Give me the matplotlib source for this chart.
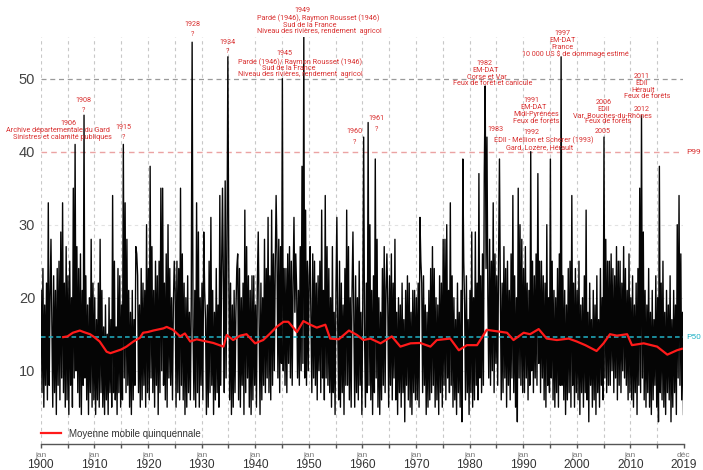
import matplotlib
matplotlib.use('Agg')
import matplotlib.pyplot as plt
import numpy as np

# =====================================================================
# DONNÉES — indice (6 valeurs par an, 1900-2019)
# =====================================================================
v1900 = [21, 7, 24, 5, 19, 8,   22, 6, 33, 8, 20, 28,   17, 5, 23, 7, 21, 4,
         24, 8, 25, 6, 29, 9,   33, 7, 22, 5, 27, 6,    23, 4, 25, 8, 20, 5,
         35, 9, 41, 10, 27, 7,  24, 5, 26, 4, 21, 8,    45, 9, 23, 6, 19, 4,
         20, 7, 28, 5, 22, 6]
v1910 = [20, 4, 17, 6, 22, 5,   28, 7, 21, 5, 16, 4,    19, 6, 15, 4, 20, 7,
         17, 5, 34, 7, 25, 6,   16, 4, 24, 7, 23, 5,    19, 6, 41, 9, 33, 7,
         28, 8, 21, 5, 18, 4,   21, 6, 17, 8, 27, 26,   23, 7, 19, 5, 24, 6,
         22, 8, 21, 5, 30, 7]
v1920 = [24, 6, 38, 9, 27, 7,   21, 5, 25, 8, 23, 4,    25, 7, 35, 10, 35, 8,
         22, 6, 26, 5, 30, 9,   24, 8, 20, 6, 19, 25,   21, 5, 25, 7, 24, 6,
         35, 8, 26, 6, 22, 4,   20, 5, 23, 7, 18, 6,    19, 55, 16, 6, 21, 5,
         33, 7, 29, 5, 20, 8]
v1930 = [22, 6, 29, 21, 17, 4,  19, 5, 25, 7, 31, 8,    21, 4, 18, 6, 24, 7,
         19, 5, 34, 8, 24, 35,  22, 7, 36, 9, 26, 53,   25, 6, 22, 4, 19, 5,
         21, 7, 18, 24, 26, 6,  24, 5, 20, 8, 22, 4,    32, 7, 27, 9, 23, 5,
         21, 4, 23, 6, 23, 8]
v1940 = [19, 5, 22, 29, 17, 4,  22, 6, 20, 8, 28, 7,    24, 9, 31, 7, 23, 6,
         32, 8, 26, 10, 24, 34, 26, 9, 28, 7, 27, 11,   50, 10, 24, 8, 24, 7,
         26, 11, 27, 9, 25, 8,  22, 31, 18, 26, 21, 9,  21, 8, 27, 10, 38, 11,
         56, 9, 32, 8, 25, 10]
v1950 = [23, 27, 17, 7, 26, 9,  25, 8, 22, 6, 23, 10,   25, 7, 32, 9, 21, 6,
         34, 9, 27, 8, 24, 7,   20, 5, 27, 7, 18, 4,    21, 31, 16, 6, 25, 5,
         22, 7, 19, 4, 24, 8,   32, 8, 27, 6, 20, 5,    21, 29, 17, 5, 23, 7,
         20, 6, 25, 8, 18, 4]
v1960 = [19, 42, 15, 5, 22, 7,  44, 8, 30, 6, 21, 4,    23, 7, 39, 9, 28, 5,
         20, 4, 18, 6, 24, 8,   27, 7, 21, 26, 19, 5,   23, 8, 26, 6, 22, 9,
         28, 6, 18, 4, 20, 7,   19, 5, 22, 7, 17, 3,    21, 8, 23, 6, 22, 5,
         18, 4, 21, 7, 21, 6]
v1970 = [20, 6, 22, 5, 31, 25,  22, 7, 23, 8, 19, 4,    18, 5, 21, 6, 24, 7,
         27, 8, 24, 5, 20, 6,   19, 4, 23, 7, 22, 5,    28, 8, 28, 6, 30, 9,
         21, 7, 33, 8, 23, 5,   20, 6, 17, 4, 22, 7,    18, 5, 21, 3, 39, 25,
         19, 6, 23, 7, 17, 4]
v1980 = [21, 7, 29, 5, 20, 6,   29, 8, 22, 6, 37, 9,    23, 7, 26, 8, 37, 49,
         24, 42, 20, 9, 28, 8,  25, 10, 33, 7, 26, 11,  23, 8, 25, 39, 21, 6,
         22, 7, 27, 9, 24, 5,   25, 8, 21, 6, 26, 9,    34, 7, 23, 5, 20, 3,
         35, 9, 30, 8, 28, 7]
v1990 = [24, 7, 27, 9, 22, 6,   21, 8, 40, 10, 25, 7,   23, 9, 26, 8, 37, 11,
         25, 7, 25, 9, 23, 6,   22, 5, 30, 8, 20, 7,    39, 9, 25, 6, 21, 5,
         20, 7, 24, 5, 26, 8,   53, 8, 23, 6, 21, 4,    19, 6, 24, 7, 25, 5,
         34, 8, 22, 5, 24, 7]
v2000 = [21, 6, 25, 4, 19, 7,   20, 5, 23, 7, 32, 6,    18, 3, 22, 8, 17, 5,
         21, 6, 19, 4, 23, 7,   17, 5, 24, 8, 20, 6,    42, 9, 28, 7, 25, 8,
         25, 8, 26, 10, 24, 7,  23, 9, 27, 6, 25, 8,    25, 7, 22, 10, 27, 9,
         24, 8, 21, 6, 26, 7]
v2010 = [20, 6, 23, 5, 19, 7,   22, 4, 24, 8, 35, 7,    45, 9, 29, 6, 21, 5,
         19, 7, 24, 5, 18, 4,   21, 6, 17, 8, 23, 5,    20, 3, 38, 7, 22, 6,
         25, 5, 18, 4, 21, 7,   19, 6, 23, 3, 17, 5,    21, 7, 19, 4, 30, 9,
         34, 8, 26, 6, 18, 4]

mm_annee = [1904.2, 1905, 1906, 1907.3, 1908, 1909.2, 1910, 1911, 1912.3, 1913,
            1914.2, 1915, 1916, 1917.3, 1918.5, 1919.1, 1920, 1921, 1922.9, 1923.5,
            1924.7, 1926, 1926.9, 1927.9, 1929.1, 1930.3, 1932.2, 1934.1, 1934.7, 1935.9,
            1937.2, 1938.4, 1940, 1941.5, 1942.8, 1944, 1945.3, 1946.2, 1947.8, 1949,
            1950.3, 1951.5, 1953.1, 1954, 1955.6, 1957.5, 1959, 1960.2, 1961.5, 1963.4,
            1965.5, 1967.1, 1969, 1970.8, 1972.7, 1973.9, 1976.4, 1978, 1979.5, 1981.4,
            1982, 1983.2, 1985.1, 1987, 1988.2, 1990.1, 1991.3, 1992.9, 1994.4, 1996.3,
            1998.5, 2000, 2001.6, 2003.7, 2005, 2006.2, 2007.5, 2009.4, 2010.3, 2012.5,
            2015, 2016.9, 2018.7, 2019.6]
mm_valeur = [14.6, 14.7, 15.2, 15.5, 15.3, 15.0, 14.6, 14.0, 12.6, 12.4,
             12.7, 12.9, 13.3, 14.0, 14.5, 15.2, 15.3, 15.5, 15.8, 16.0,
             15.6, 14.7, 15.1, 14.0, 14.3, 14.1, 13.8, 13.3, 14.9, 14.2,
             14.8, 15.0, 13.75, 14.2, 15.1, 16.0, 16.7, 16.7, 15.3, 16.8,
             16.3, 15.9, 16.3, 14.4, 14.3, 15.5, 14.9, 14.2, 14.4, 13.75,
             14.7, 13.3, 13.75, 13.8, 13.3, 14.2, 14.4, 12.8, 13.5, 13.5,
             14.2, 15.6, 15.4, 15.2, 14.2, 15.2, 15.0, 15.7, 14.4, 14.2,
             14.4, 14.0, 13.5, 12.7, 13.75, 15.0, 14.8, 15.0, 13.5, 13.75,
             13.3, 12.2, 12.8, 13.0]

P99 = 40
P50 = 14.6

ticks_x = [1900, 1910, 1920, 1930, 1940, 1950, 1960, 1970, 1980, 1990, 2000, 2010, 2019 + 11/12]
mois_x = ['jan'] * 12 + ['déc']
annee_x = ['1900', '1910', '1920', '1930', '1940', '1950', '1960', '1970',
           '1980', '1990', '2000', '2010', '2019']

# Annotations (année, valeur, texte)
ANNOT = [
    (1905.1, 43.8, '1906'),
    (1903.2, 42.9, 'Archive départementale du Gard'),
    (1904.0, 42.0, 'Sinistres et calamité publiques'),
    (1907.9, 47.0, '1908'), (1907.9, 45.6, '?'),
    (1915.5, 43.3, '1915'), (1915.5, 41.9, '?'),
    (1928.4, 57.4, '1928'), (1928.4, 56.0, '?'),
    (1934.9, 55.0, '1934'), (1934.9, 53.7, '?'),
    (1945.4, 53.4, '1945'),
    (1948.4, 52.3, 'Pardé (1946)/ Raymon Rousset (1946)'),
    (1946.3, 51.4, 'Sud de la France'),
    (1948.4, 50.6, 'Niveau des rivières, rendement  agricol'),
    (1948.9, 59.3, '1949'),
    (1951.7, 58.3, 'Pardé (1946), Raymon Rousset (1946)'),
    (1950.1, 57.35, 'Sud de la France'),
    (1951.9, 56.4, 'Niveau des rivières, rendement  agricol'),
    (1958.45, 42.7, '1960'), (1958.45, 41.2, '?'),
    (1962.7, 44.5, '1961'), (1962.6, 43.0, '?'),
    (1982.7, 52.1, '1982'),
    (1982.9, 51.1, 'EM-DAT'),
    (1983.3, 50.2, 'Corse et Var'),
    (1984.4, 49.3, 'Feux de forêt et canicule'),
    (1984.8, 43.0, '1983'),
    (1991.5, 47.0, '1991'),
    (1992.0, 46.0, 'EM-DAT'),
    (1992.4, 45.1, 'Midi-Pyrénées'),
    (1992.4, 44.2, 'Feux de forêts'),
    (1991.5, 42.6, '1992'),
    (1993.9, 41.6, 'EDII - Méllion et Scherer (1993)'),
    (1993.0, 40.6, 'Gard, Lozère, Hérault'),
    (1997.3, 56.2, '1997'),
    (1997.3, 55.2, 'EM-DAT'),
    (1997.3, 54.3, 'France'),
    (1999.8, 53.4, r'10 000 US \$ de dommage estimé'),
    (2004.85, 42.7, '2005'),
    (2005.1, 46.8, '2006'),
    (2005.1, 45.8, 'EDII'),
    (2006.7, 44.9, 'Var, Bouches-du-Rhônes'),
    (2005.8, 44.1, 'Feux de forêts'),
    (2012.2, 50.3, '2011'),
    (2012.2, 49.3, 'EDII'),
    (2012.4, 48.4, 'Hérault'),
    (2013.1, 47.5, 'Feux de forêts'),
    (2012.1, 45.8, '2012'),
]

ROUGE = '#d93030'
CYAN = '#22b2c6'
POLICE = ['Liberation Sans', 'DejaVu Sans']
POLICE_ANNOT = ['Roboto', 'DejaVu Sans']

# =====================================================================
# FIGURE
# =====================================================================
serie = np.array(v1900 + v1910 + v1920 + v1930 + v1940 + v1950 +
                 v1960 + v1970 + v1980 + v1990 + v2000 + v2010, dtype=float)
t = 1900 + (np.arange(len(serie)) + 0.5) / 6

plt.rcParams['font.family'] = POLICE

fig = plt.figure(figsize=(7.03, 4.70), dpi=100, facecolor='white')
ax = fig.add_axes([40.7 / 703, 1 - 443.7 / 470, 642.8 / 703, 55.7 * 7.3 / 470])

ax.set_xlim(1900, 2019 + 11 / 12)
ax.set_ylim(0, 55.7)

# grilles
ax.set_xticks(np.arange(1900, 2016, 5).tolist() + [2019 + 11 / 12])
ax.grid(axis='x', color='#c8c8c8', ls=(0, (3, 3)), lw=0.8, zorder=0)
for y in [10, 20, 30]:
    ax.axhline(y, color='#e2e2e2', ls=(0, (3, 3)), lw=0.8, zorder=0)
ax.axhline(50, color='#9a9a9a', ls=(0, (4, 3)), lw=0.9, zorder=1)
ax.axhline(P99, color='#eba3a3', ls=(0, (4, 3)), lw=1.0, zorder=1)

# série
ax.plot(t, serie, color='#050505', lw=1.0, zorder=2)
ax.axhline(P50, color=CYAN, ls=(0, (3, 2)), lw=1.1, zorder=3)
ax.plot(mm_annee, mm_valeur, color='#ff1a1a', lw=1.6, zorder=4,
        label='Moyenne mobile quinquennale')

ax.text(1.004, P99, 'P99', transform=ax.get_yaxis_transform(), color=ROUGE,
        fontsize=6, va='center', ha='left', family=POLICE_ANNOT)
ax.text(1.004, P50, 'P50', transform=ax.get_yaxis_transform(), color=CYAN,
        fontsize=6, va='center', ha='left', family=POLICE_ANNOT)

for x, y, txt in ANNOT:
    ax.text(x, y, txt, color=ROUGE, fontsize=5.2, ha='center', va='center',
            family=POLICE_ANNOT, clip_on=False, zorder=5)

# axes
for s in ['top', 'right', 'left']:
    ax.spines[s].set_visible(False)
ax.spines['bottom'].set_color('#555555')
ax.spines['bottom'].set_linewidth(1.0)
ax.tick_params(axis='x', length=3, width=1, color='#555555', labelbottom=False)
ax.set_yticks([10, 20, 30, 40, 50])
ax.tick_params(axis='y', length=0, pad=4, labelsize=10.5, labelcolor='#444444')

for x, m, a in zip(ticks_x, mois_x, annee_x):
    ax.annotate(m, xy=(x, 0), xycoords=('data', 'axes fraction'),
                xytext=(0, -8.4), textcoords='offset points', ha='center', va='center',
                fontsize=6.0, color='#777777')
    ax.annotate(a, xy=(x, 0), xycoords=('data', 'axes fraction'),
                xytext=(0, -15.6), textcoords='offset points', ha='center', va='center',
                fontsize=8.6, color='#333333')

ax.legend(loc='lower left', bbox_to_anchor=(0, 0.012), frameon=False, fontsize=7,
          handlelength=2.1, handletextpad=0.8, borderpad=0, borderaxespad=0,
          labelcolor='#333333')

plt.savefig('out.png', dpi=100, facecolor='white')
